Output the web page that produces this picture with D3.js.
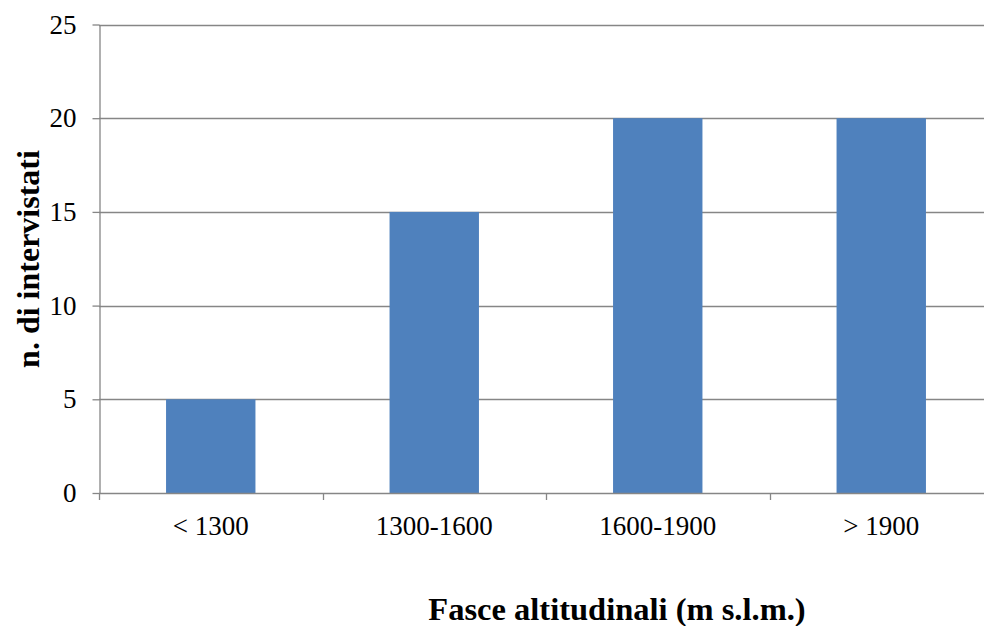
<!DOCTYPE html>
<html>
<head>
<meta charset="utf-8">
<script src="https://cdn.jsdelivr.net/npm/d3@7"></script>
<style>
  html, body { margin: 0; padding: 0; background: #fff; }
  svg { display: block; }
</style>
</head>
<body>
<svg id="chart" width="984" height="626"></svg>
<script>
// Interviewees by altitude band
const categories = ["< 1300", "1300-1600", "1600-1900", "> 1900"];
const counts = [5, 15, 20, 20];
const yTicks = [0, 5, 10, 15, 20, 25];

const W = 984, H = 626;
const plotLeft = 99, plotRight = 993, plotTop = 24.5, plotBottom = 493;
const serif = "'Liberation Serif', 'Times New Roman', Times, serif";

const svg = d3.select("#chart");

const x = d3.scaleBand()
  .domain(categories)
  .range([plotLeft, plotRight])
  .paddingInner(0.6)
  .paddingOuter(0.3);

const y = d3.scaleLinear().domain([0, 25]).range([plotBottom, plotTop]);

const grid = "#868686";

// horizontal gridlines
svg.append("g")
  .selectAll("line")
  .data(yTicks.filter(d => d > 0))
  .join("line")
  .attr("x1", plotLeft).attr("x2", W)
  .attr("y1", d => Math.round(y(d)) + 0.5)
  .attr("y2", d => Math.round(y(d)) + 0.5)
  .attr("stroke", grid).attr("stroke-width", 1.3);

// bars
svg.append("g")
  .selectAll("rect")
  .data(categories)
  .join("rect")
  .attr("x", d => x(d))
  .attr("width", x.bandwidth())
  .attr("y", (d, i) => y(counts[i]))
  .attr("height", (d, i) => y(0) - y(counts[i]))
  .attr("fill", "#4F81BD");

// y axis
const yAxis = svg.append("g")
  .attr("transform", `translate(${plotLeft + 0.5},0)`)
  .call(d3.axisLeft(y).tickValues(yTicks).tickSize(7).tickPadding(16).tickSizeOuter(0))
  .attr("font-family", serif)
  .attr("font-size", 27);
yAxis.select(".domain").attr("stroke", grid).attr("stroke-width", 1.3);
yAxis.selectAll(".tick line").attr("stroke", grid).attr("stroke-width", 1.3);
yAxis.selectAll(".tick text").attr("fill", "#000");

// x axis with ticks between categories
const step = x.step();
const boundaries = d3.range(categories.length + 1).map(i => plotLeft + i * step);
const xg = svg.append("g");
xg.append("line")
  .attr("x1", plotLeft).attr("x2", W)
  .attr("y1", Math.round(plotBottom) + 0.5).attr("y2", Math.round(plotBottom) + 0.5)
  .attr("stroke", grid).attr("stroke-width", 1.3);
xg.selectAll("line.tk")
  .data(boundaries)
  .join("line")
  .attr("class", "tk")
  .attr("x1", d => Math.round(d) + 0.5).attr("x2", d => Math.round(d) + 0.5)
  .attr("y1", plotBottom).attr("y2", plotBottom + 7)
  .attr("stroke", grid).attr("stroke-width", 1.3);
xg.selectAll("text")
  .data(categories)
  .join("text")
  .attr("x", d => x(d) + x.bandwidth() / 2)
  .attr("y", 535)
  .attr("text-anchor", "middle")
  .attr("font-family", serif)
  .attr("font-size", 27)
  .attr("fill", "#000")
  .text(d => d);

// axis titles
svg.append("text")
  .attr("transform", "translate(39,259) rotate(-90)")
  .attr("text-anchor", "middle")
  .attr("font-family", serif)
  .attr("font-size", 32)
  .attr("font-weight", "bold")
  .attr("fill", "#000")
  .text("n. di intervistati");

svg.append("text")
  .attr("x", 617)
  .attr("y", 620)
  .attr("text-anchor", "middle")
  .attr("font-family", serif)
  .attr("font-size", 32.5)
  .attr("font-weight", "bold")
  .attr("fill", "#000")
  .text("Fasce altitudinali (m s.l.m.)");
</script>
</body>
</html>
